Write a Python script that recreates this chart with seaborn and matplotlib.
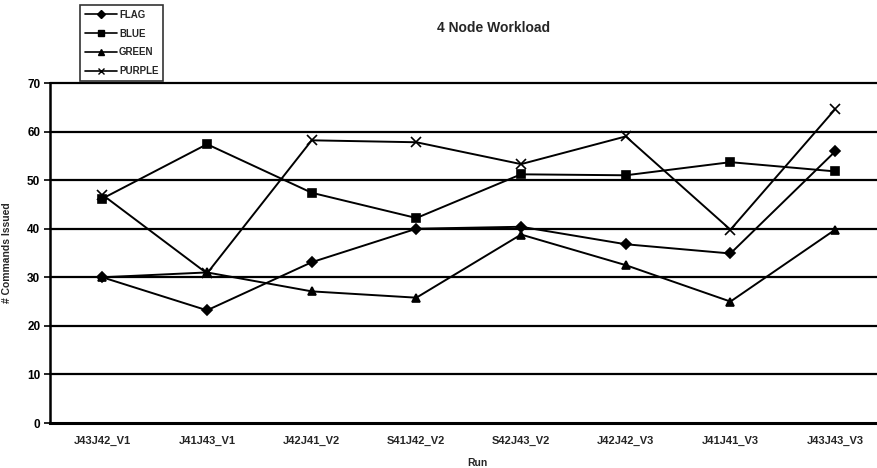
import numpy as np
import pandas as pd
import matplotlib
matplotlib.use("Agg")
import matplotlib.pyplot as plt
from matplotlib.lines import Line2D
import seaborn as sns

runs = ["J43J42_V1", "J41J43_V1", "J42J41_V2", "S41J42_V2",
        "S42J43_V2", "J42J42_V3", "J41J41_V3", "J43J43_V3"]
flag = [30.0, 23.2, 33.1, 40.0, 40.4, 36.8, 34.9, 55.9]
blue = [46.2, 57.4, 47.4, 42.2, 51.2, 51.0, 53.7, 51.8]
green = [30.0, 31.0, 27.1, 25.8, 38.8, 32.5, 25.0, 39.8]
purple = [47.0, 30.8, 58.2, 57.8, 53.3, 59.0, 39.8, 64.6]
series_names = ["FLAG", "BLUE", "GREEN", "PURPLE"]
yticks = [0, 10, 20, 30, 40, 50, 60, 70]

df = pd.DataFrame({
    "Run": runs * 4,
    "Value": flag + blue + green + purple,
    "Series": sum([[s] * len(runs) for s in series_names], []),
})

sns.set_theme(style="white")
plt.rcParams["font.family"] = ["Liberation Sans", "DejaVu Sans"]

fig = plt.figure(figsize=(8.77, 4.68), dpi=100)
L = 50 / 877
B = 1 - 423 / 468
T = 1 - 83 / 468
ax = fig.add_axes([L, B, 1 - L, T - B])

markers = {"FLAG": "D", "BLUE": "s", "GREEN": "^", "PURPLE": "x"}
msize = {"FLAG": 5, "BLUE": 5.5, "GREEN": 6, "PURPLE": 7}

handles = []
for s in series_names:
    sub = df[df["Series"] == s]
    sns.lineplot(data=sub, x="Run", y="Value", sort=False, color="black",
                 marker=markers[s], markersize=msize[s], linewidth=1.4,
                 markeredgecolor="black", markerfacecolor="black",
                 markeredgewidth=1.2, ax=ax, legend=False)
    handles.append(Line2D([], [], color="black", linewidth=1.2, marker=markers[s],
                          markersize=4, markerfacecolor="black",
                          markeredgecolor="black", label=s))

ax.set_ylim(0, 70)
ax.set_xlim(-0.5, 7.4)
ax.set_yticks(yticks)
ax.set_yticklabels([str(v) for v in yticks], fontsize=8.5, fontweight="bold")
ax.set_xticks(range(len(runs)))
ax.set_xticklabels(runs, fontsize=8, fontweight="bold")
ax.set_xticks(np.arange(-0.5, 7.5, 1.0), minor=True)
ax.tick_params(axis="x", which="major", length=0, pad=9)
ax.tick_params(axis="x", which="minor", length=3, width=1, direction="inout", colors="black")
ax.tick_params(axis="y", which="major", length=4, width=1.2, direction="out", left=True, colors="black", pad=3)
for v in yticks[1:]:
    ax.axhline(v, color="black", linewidth=1.6, zorder=0, clip_on=False)
for s in ["top", "right"]:
    ax.spines[s].set_visible(False)
ax.spines["left"].set_color("black")
ax.spines["left"].set_linewidth(1.8)
ax.spines["bottom"].set_color("black")
ax.spines["bottom"].set_linewidth(2.2)

ax.set_xlabel("Run", fontsize=7.5, fontweight="bold")
ax.set_ylabel("# Commands Issued", fontsize=7.5, fontweight="bold")
ax.xaxis.set_label_coords(427 / 827, -35 / 340)
ax.yaxis.set_label_coords(-38 / 827, 0.5)
fig.text(494 / 877, 1 - 28 / 468, "4 Node Workload", fontsize=10, fontweight="bold",
         ha="center", va="center")

leg = fig.legend(handles=handles, loc="upper left",
                 bbox_to_anchor=(80 / 877, 1 - 5 / 468),
                 frameon=True, fancybox=False, edgecolor="black",
                 prop={"size": 7, "weight": "bold"}, handlelength=3.3,
                 handletextpad=0.2, labelspacing=0.9, borderpad=0.5,
                 borderaxespad=0)
leg.get_frame().set_linewidth(1.2)

fig.savefig("out.png", dpi=100)
